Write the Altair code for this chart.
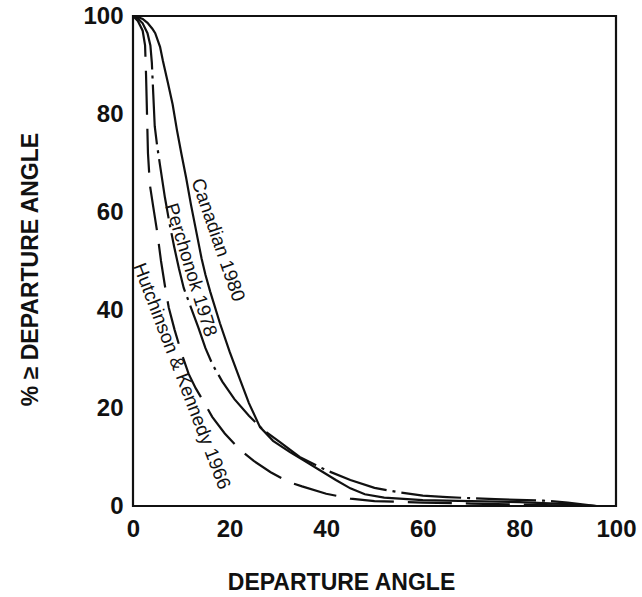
import altair as alt
import pandas as pd

# Canadian 1980 (solid)
can_x = [0, 1, 2, 3, 4, 4.6, 5.6, 6.2, 7.2, 8.2, 9.1, 10, 11, 12, 13, 14.2, 15, 16, 18, 20, 22.2, 24, 26.3, 29, 32.5, 35.5, 38.7, 42, 45, 48, 52, 60, 70, 80, 90, 96]
can_y = [100, 99.8, 99.4, 98.6, 97.4, 96.5, 93.7, 90.8, 86.5, 82, 76.7, 72, 67, 61.5, 56.5, 50.5, 47.2, 43.7, 37.3, 31.5, 25.7, 21, 16.1, 13.3, 11, 9.2, 7.3, 5.3, 3.6, 2.4, 1.7, 1.2, 1.0, 0.8, 0.4, 0]

# Perchonok 1978 (dash-dot)
per_x = [0, 1, 2, 3, 3.6, 3.9, 4.2, 4.5, 5, 5.6, 6.6, 7.5, 8.5, 9.5, 10.5, 12, 13.5, 15, 16.5, 18.5, 21, 24, 27, 30.5, 34.5, 40, 45, 50, 55, 60, 65, 75, 85, 90, 96]
per_y = [100, 99.5, 98.5, 96.5, 94, 90.5, 84, 77.5, 73.5, 69.5, 63, 58, 53, 48.5, 44.5, 40.5, 36.5, 32.2, 28.8, 25.4, 21.8, 18.4, 15.5, 13, 10, 7.3, 5.3, 3.7, 2.8, 2.1, 1.8, 1.4, 1.1, 0.7, 0]

# Hutchinson & Kennedy 1966 (long dash)
hut_x = [0, 0.5, 1, 1.5, 2, 2.5, 2.7, 2.9, 3.1, 3.5, 4.2, 5, 5.8, 6.6, 7.4, 8.6, 10.1, 11.5, 13, 14.5, 16.4, 19, 22, 25, 28.5, 32, 35, 40, 45, 50, 60, 70, 80, 90, 96]
hut_y = [100, 99.5, 99, 98, 97, 94, 88, 80, 72, 65.5, 61, 56, 50, 45, 40.5, 36, 31, 27, 24, 21.5, 18.2, 14.8, 11.6, 9.2, 6.9, 5, 4, 2.5, 1.5, 1.0, 0.7, 0.5, 0.3, 0.1, 0]

labels = ["Canadian 1980", "Perchonok 1978", "Hutchinson & Kennedy 1966"]
label_x = [17.6, 12.0, 10.1]
label_y = [54.3, 48.2, 26.5]
label_angle = [71, 73, 69]

x_ticks = [0, 20, 40, 60, 80, 100]
y_ticks = [0, 20, 40, 60, 80, 100]

FONT = "Liberation Sans"
INK = "#111111"

xs = alt.Scale(domain=[0, 100], nice=False, zero=False)
ys = alt.Scale(domain=[0, 100], nice=False, zero=False)

xaxis = alt.Axis(values=x_ticks, title="DEPARTURE ANGLE", grid=False, ticks=False, domain=False,
                 labelFont=FONT, labelFontSize=24, labelFontWeight="bold", labelColor=INK,
                 labelPadding=11, labelFlush=False,
                 titleFont=FONT, titleFontSize=23, titleFontWeight="bold", titleColor=INK,
                 titleX=208, titleY=65, titleAlign="center", titleBaseline="top")
yaxis = alt.Axis(values=y_ticks, title="% \u2265 DEPARTURE ANGLE", grid=False, ticks=False, domain=False,
                 labelFont=FONT, labelFontSize=24, labelFontWeight="bold", labelColor=INK,
                 labelPadding=10, labelFlush=False,
                 titleFont=FONT, titleFontSize=23, titleFontWeight="bold", titleColor=INK,
                 titleAngle=-90, titleX=-96, titleY=253, titleAlign="center", titleBaseline="alphabetic")


def line(xv, yv, dash):
    df = pd.DataFrame({"x": xv, "y": yv})
    kw = {"strokeDash": dash} if dash else {}
    return alt.Chart(df).mark_line(color=INK, strokeWidth=2.2, **kw).encode(
        x=alt.X("x:Q", scale=xs, axis=xaxis),
        y=alt.Y("y:Q", scale=ys, axis=yaxis),
        order="x:Q",
    )


layers = [
    line(can_x, can_y, None),
    line(per_x, per_y, [60, 6, 3, 6]),
    line(hut_x, hut_y, [44, 14]),
]

for lab, lx, ly, ang in zip(labels, label_x, label_y, label_angle):
    df = pd.DataFrame({"x": [lx], "y": [ly], "t": [lab]})
    layers.append(
        alt.Chart(df).mark_text(font=FONT, fontSize=19, color=INK, angle=ang,
                                align="center", baseline="middle").encode(
            x=alt.X("x:Q", scale=xs), y=alt.Y("y:Q", scale=ys), text="t:N")
    )

chart = alt.layer(*layers).properties(
    width=483, height=490,
    background="white",
    autosize=alt.AutoSizeParams(type="none"),
    padding={"left": 133, "top": 16, "right": 26, "bottom": 91},
).configure_view(stroke=INK, strokeWidth=2.2)

chart.save("out.html", embed_options={"renderer": "svg", "actions": False})
